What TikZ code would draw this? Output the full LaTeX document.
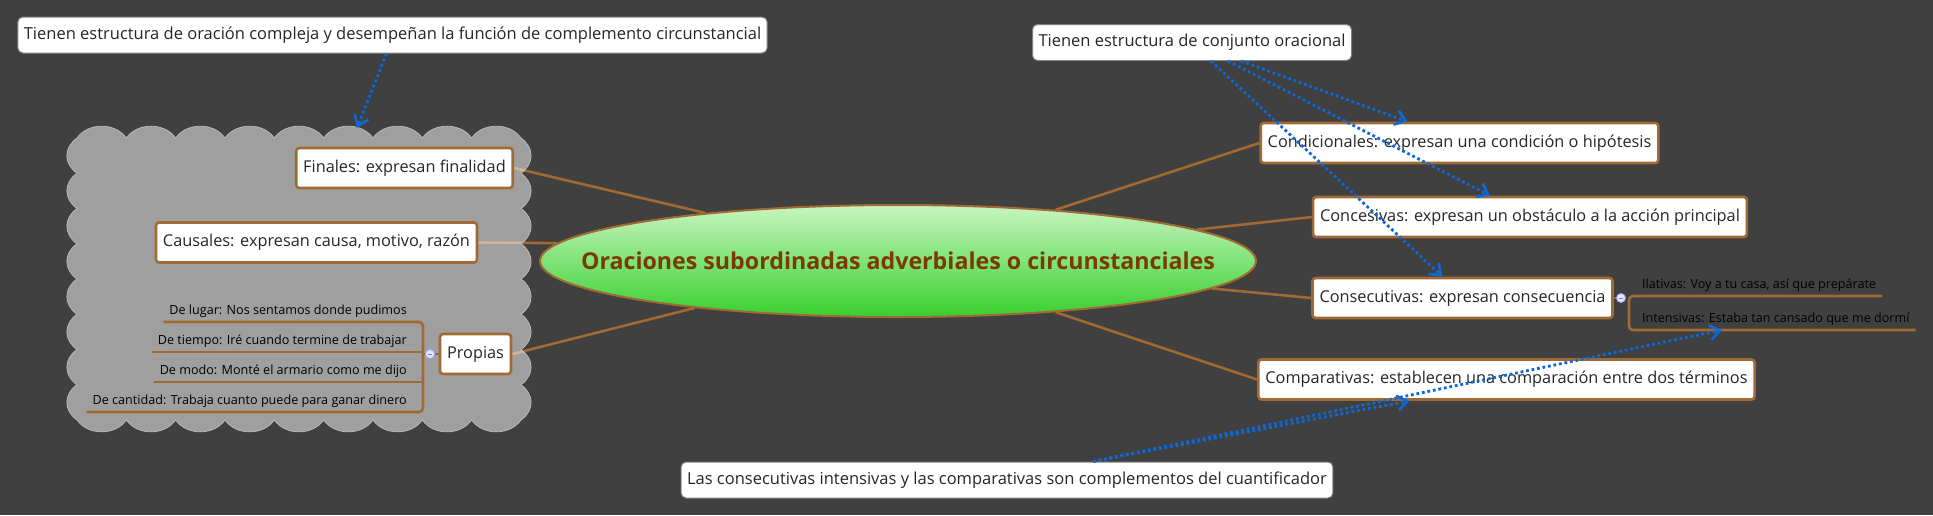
\documentclass[tikz,border=0pt]{standalone}
\usepackage{fontspec}
\setmainfont{Open Sans}
\usetikzlibrary{shapes.geometric,arrows.meta}
\pgfdeclarelayer{back}
\pgfsetlayers{back,main}
\definecolor{bg}{RGB}{64,64,64}
\definecolor{branch}{RGB}{161,106,52}
\definecolor{linkblue}{RGB}{16,104,214}
\definecolor{titlebrown}{RGB}{122,58,0}
\definecolor{topgreen}{RGB}{200,245,192}
\definecolor{botgreen}{RGB}{56,208,46}
\definecolor{inktext}{RGB}{38,38,38}
\tikzset{
  topic/.style={draw=branch, line width=2.6pt, fill=white, rounded corners=3pt,
    minimum height=40pt, inner xsep=7pt, text=inktext, font=\fontsize{16.3}{19}\selectfont},
  note/.style={draw=gray, line width=1pt, fill=white, rounded corners=5pt,
    minimum height=36pt, inner xsep=6pt, text=inktext, font=\fontsize{16.5}{19}\selectfont},
  leaf/.style={inner xsep=6pt, inner ysep=4pt, text height=10pt, text depth=3pt,
    text=black, font=\fontsize{12.6}{15}\selectfont},
  branchline/.style={draw=branch, line width=2.6pt},
  link/.style={draw=linkblue, line width=2.8pt, dash pattern=on 2.8pt off 2.8pt,
    -{Straight Barb[length=10pt,width=15pt,line width=2.6pt]}},
  collapse/.style={circle, draw=blue!35, fill=blue!10, line width=0.8pt,
    minimum size=9pt, inner sep=0pt}
}
\begin{document}
\begin{tikzpicture}[x=1pt,y=-1pt]
  \useasboundingbox (0,0) rectangle (1933,515);

  % central topic
  \node[ellipse, draw=branch, line width=2pt, top color=topgreen, bottom color=botgreen,
    minimum width=716pt, minimum height=112pt, inner sep=0pt, text=titlebrown,
    font=\bfseries\fontsize{23.2}{27}\selectfont] (root) at (898,261)
    {\makebox[0pt]{Oraciones subordinadas adverbiales o circunstanciales}};

  % left branches
  \node[topic] (fin) at (404.5,168) {Finales: expresan finalidad};
  \node[topic] (cau) at (316.5,242.5) {Causales: expresan causa, motivo, razón};
  \node[topic] (prop) at (475.5,354) {Propias};

  % right branches
  \node[topic] (cond) at (1459.5,143) {Condicionales: expresan una condición o hipótesis};
  \node[topic] (conc) at (1530,217) {Concesivas: expresan un obstáculo a la acción principal};
  \node[topic] (cons) at (1462.5,298) {Consecutivas: expresan consecuencia};
  \node[topic] (comp) at (1506.5,379.5) {Comparativas: establecen una comparación entre dos términos};

  \begin{pgfonlayer}{back}
    \fill[bg] (0,0) rectangle (1933,515);
    \draw[branchline] (root.166) -- (fin.east);
    \draw[branchline] (root.177.5) -- (cau.east);
    \draw[branchline] (root.193) -- (prop.east);
    \draw[branchline] (root.18) -- (cond.west);
    \draw[branchline] (root.6) -- (conc.west);
    \draw[branchline] (root.355) -- (cons.west);
    \draw[branchline] (root.342) -- (comp.west);
    % cloud
    \path[fill=white, fill opacity=0.5, draw=white!72!black, line width=0.8pt]
      (77,138) \foreach \i in {1,...,9}{ to[bend left=55] ++(49.33,0) }
      \foreach \i in {1,...,8}{ to[bend left=55, looseness=1.2] ++(0,35.25) }
      \foreach \i in {1,...,9}{ to[bend left=55] ++(-49.33,0) }
      \foreach \i in {1,...,8}{ to[bend left=55, looseness=1.2] ++(0,-35.25) } -- cycle;
  \end{pgfonlayer}

  % Propias
  \node[leaf, anchor=south east] (lugar) at (413,322) {De lugar: Nos sentamos donde pudimos};
  \node[leaf, anchor=south east] (tiempo) at (413,352) {De tiempo: Iré cuando termine de trabajar};
  \node[leaf, anchor=south east] (modo) at (413,382) {De modo: Monté el armario como me dijo};
  \node[leaf, anchor=south east] (cantidad) at (413,412) {De cantidad: Trabaja cuanto puede para ganar dinero};
  \coordinate (ltop) at (423,322);
  \coordinate (lbot) at (423,412);
  \draw[branchline, rounded corners=4pt] (lugar.south west) -- (ltop) -- (lbot) -- (cantidad.south west);
  \draw[branchline] (tiempo.south west) -- (tiempo.south west -| ltop);
  \draw[branchline] (modo.south west) -- (modo.south west -| ltop);
  \node[collapse] (pcol) at (430,354) {};
  \draw[blue!55, line width=0.8pt] ([xshift=-2pt]pcol.center) -- ([xshift=2pt]pcol.center);
  \draw[branchline] (prop.west) -- (pcol.east);
  \draw[branchline] (pcol.west) -- (pcol.west -| ltop);

  % Consecutivas
  \node[leaf, anchor=south west] (ilat) at (1636,296) {Ilativas: Voy a tu casa, así que prepárate};
  \node[leaf, anchor=south west] (inten) at (1636,330) {Intensivas: Estaba tan cansado que me dormí};
  \coordinate (rtop) at (1629,296);
  \coordinate (rbot) at (1629,330);
  \draw[branchline, rounded corners=4pt] (ilat.south east) -- (rtop) -- (rbot) -- (inten.south east);
  \node[collapse] (ccol) at (1621,298) {};
  \draw[blue!55, line width=0.8pt] ([xshift=-2pt]ccol.center) -- ([xshift=2pt]ccol.center);
  \draw[branchline] (cons.east) -- (ccol.west);

  % notes
  \node[note] (n1) at (392.5,35) {Tienen estructura de oración compleja y desempeñan la función de complemento circunstancial};
  \node[note] (n2) at (1192,42.5) {Tienen estructura de conjunto oracional};
  \node[note] (n3) at (1007,480) {Las consecutivas intensivas y las comparativas son complementos del cuantificador};
  \coordinate (cloudtop) at (357,128);

  \draw[link] ([xshift=-6pt]n1.south) -- (cloudtop);
  \draw[link] ([xshift=49pt]n2.south) -- ([xshift=-52pt]cond.north);
  \draw[link] ([xshift=36pt]n2.south) -- ([xshift=-40pt]conc.north);
  \draw[link] ([xshift=19pt]n2.south) -- ([xshift=-20pt]cons.north);
  \draw[link] ([xshift=86pt]n3.north) -- ([xshift=-97pt]comp.south);
  \draw[link] ([xshift=86pt]n3.north) -- ([xshift=86pt]inten.south west);
\end{tikzpicture}
\end{document}
